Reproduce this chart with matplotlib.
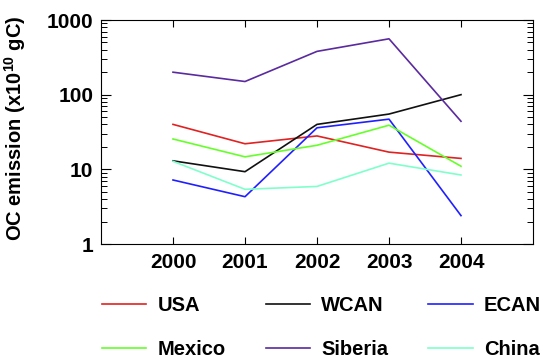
import matplotlib
matplotlib.use("Agg")
import matplotlib.pyplot as plt
from matplotlib.ticker import LogLocator, FuncFormatter, NullFormatter, FixedLocator

plt.rcParams["font.family"] = ["Liberation Sans", "DejaVu Sans"]
plt.rcParams["font.weight"] = "bold"
plt.rcParams["mathtext.fontset"] = "custom"
plt.rcParams["mathtext.rm"] = "Liberation Sans:bold"
plt.rcParams["mathtext.bf"] = "Liberation Sans:bold"
plt.rcParams["mathtext.default"] = "rm"

years = [2000, 2001, 2002, 2003, 2004]
usa = [40, 22, 28, 17, 14]
wcan = [13, 9.3, 40, 55, 100]
ecan = [7.2, 4.3, 36, 47, 2.4]
mexico = [25.5, 14.7, 21, 39, 11]
siberia = [200, 150, 380, 560, 44]
china = [12.8, 5.4, 5.9, 12.1, 8.4]

series = [
    ("USA", usa, "#e02222"),
    ("WCAN", wcan, "#111111"),
    ("ECAN", ecan, "#2020ff"),
    ("Mexico", mexico, "#66ff2a"),
    ("Siberia", siberia, "#5a2a9e"),
    ("China", china, "#80ffcc"),
]

fig = plt.figure(figsize=(5.45, 3.59), dpi=100)
ax = fig.add_axes([101 / 545, 1 - 244 / 359, 432 / 545, 224 / 359])

lines = {}
for name, vals, col in series:
    lines[name], = ax.plot(years, vals, color=col, lw=1.2, label=name)

ax.set_yscale("log")
ax.set_ylim(1, 1000)
ax.set_xlim(1999, 2005)
ax.xaxis.set_major_locator(FixedLocator(years))
ax.yaxis.set_major_locator(LogLocator(base=10))
ax.yaxis.set_minor_locator(LogLocator(base=10, subs=range(2, 10)))
ax.yaxis.set_major_formatter(FuncFormatter(lambda v, p: "%d" % v))
ax.yaxis.set_minor_formatter(NullFormatter())

ax.tick_params(axis="both", which="major", direction="in", top=True, right=True,
               labelsize=15, width=0.8)
ax.tick_params(axis="y", which="major", length=7, pad=5.5)
ax.tick_params(axis="x", which="major", length=5, pad=6.5)
ax.tick_params(axis="y", which="minor", direction="in", right=True, length=4, width=0.7)
for sp in ax.spines.values():
    sp.set_linewidth(0.8)

ax.set_ylabel(r"OC emission (x10$^{10}$ gC)", fontsize=14.5, fontweight="bold")
# label anchor is its right edge once rotated
ax.yaxis.set_label_coords(-(101 - 28) / 432, (244 - 128) / 224)

# legend is filled column by column, so order for rows of three
order = ["USA", "Mexico", "WCAN", "Siberia", "ECAN", "China"]
fig.legend([lines[n] for n in order], order, loc="upper left",
           bbox_to_anchor=(102 / 545, 1 - 296 / 359), ncol=3,
           frameon=False, fontsize=14.5, handlelength=2.2, handletextpad=0.55,
           columnspacing=2.0, labelspacing=1.22, borderpad=0, borderaxespad=0)

fig.savefig("out.png", dpi=100)
